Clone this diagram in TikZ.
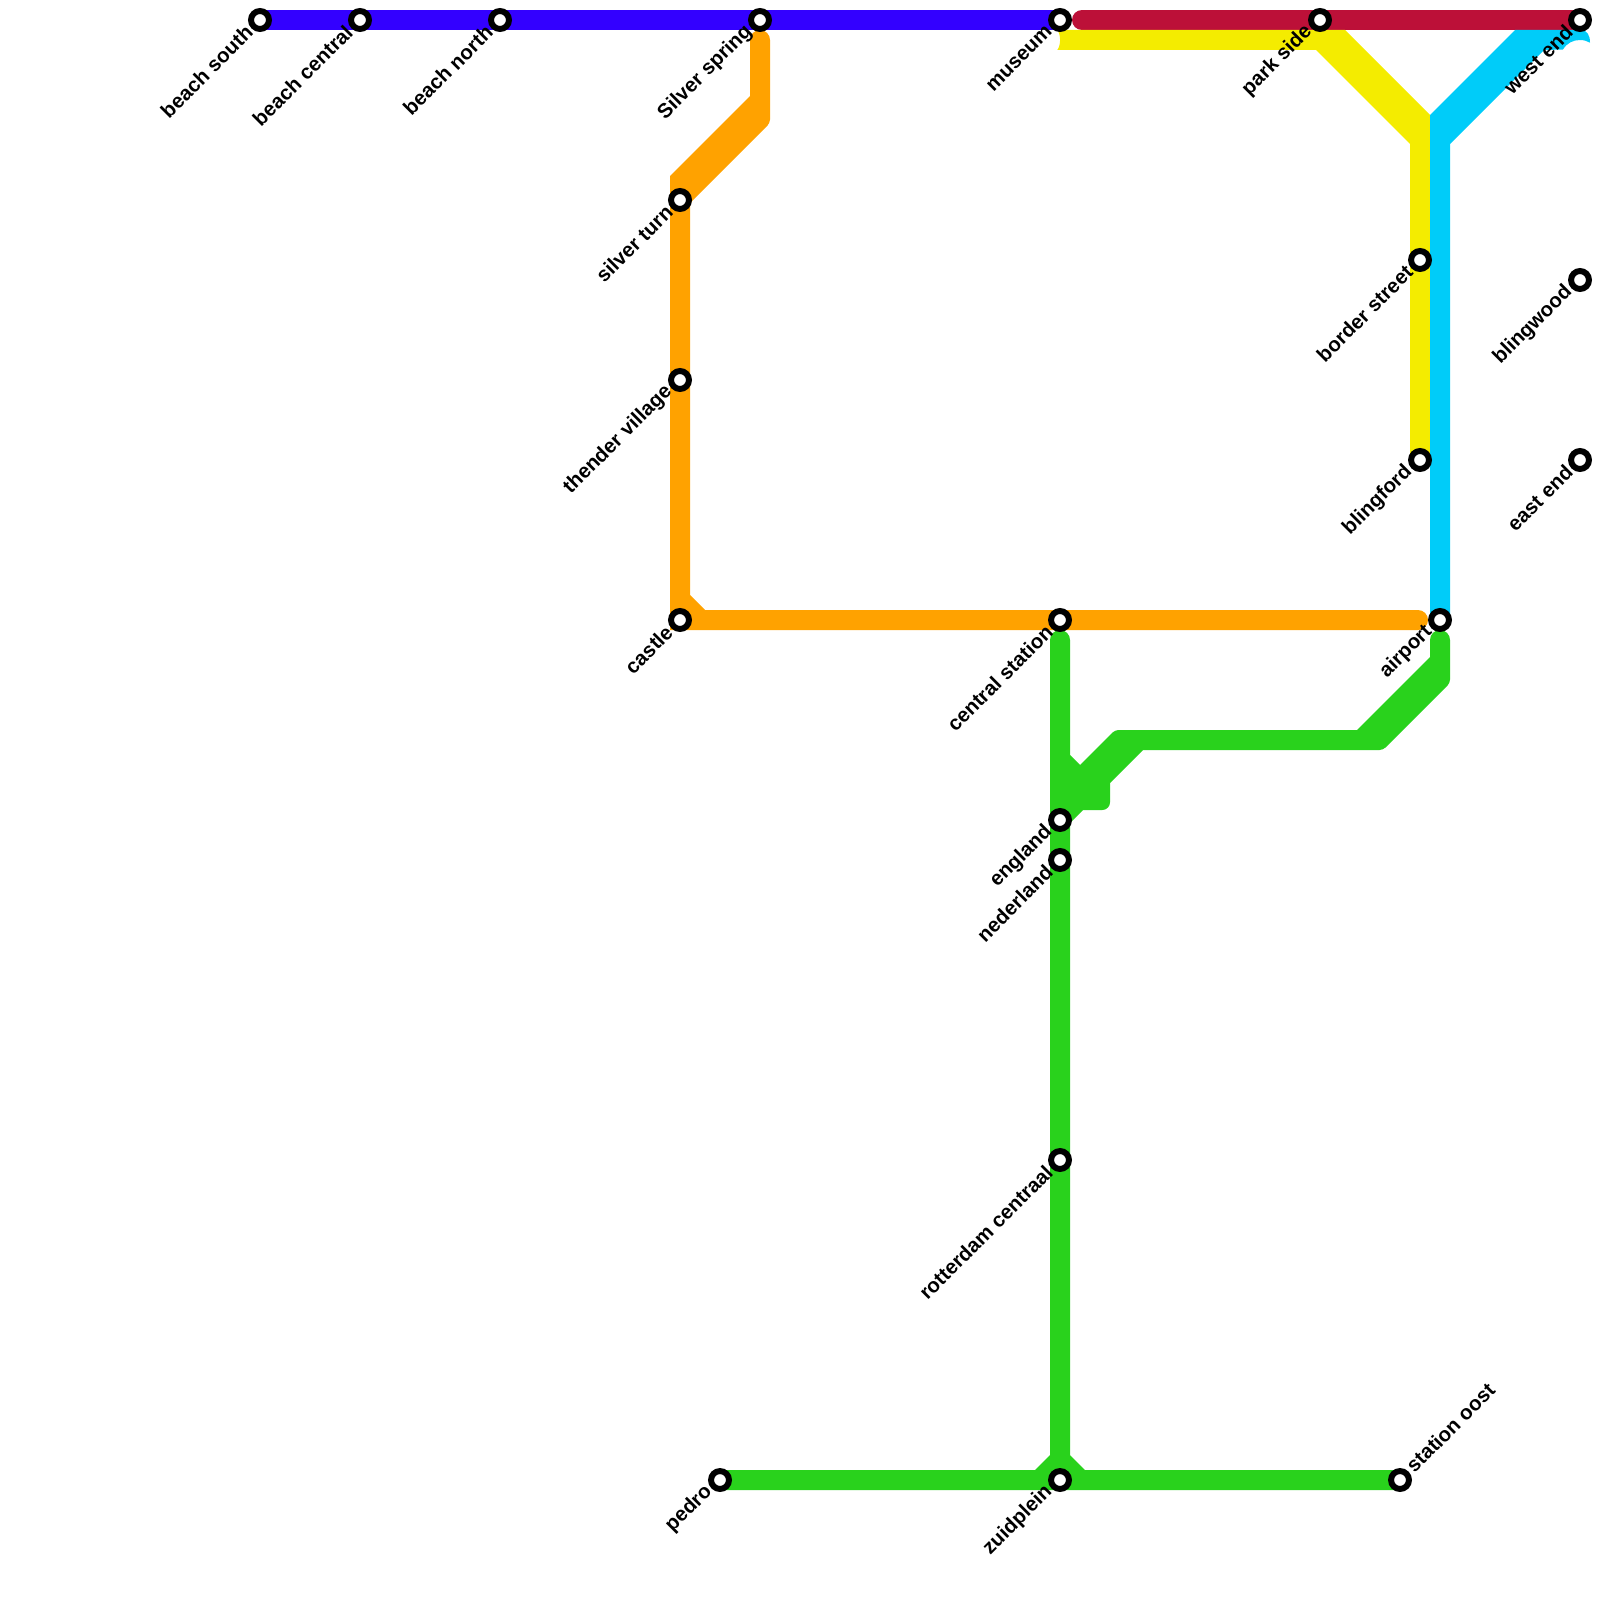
\documentclass[tikz,border=0pt]{standalone}
\usepackage{fontspec}
\setmainfont{Liberation Sans}
\definecolor{lblue}{HTML}{3300FF}
\definecolor{lred}{HTML}{BC1038}
\definecolor{lyellow}{HTML}{F4EC00}
\definecolor{lcyan}{HTML}{00CCF9}
\definecolor{lorange}{HTML}{FFA200}
\definecolor{lgreen}{HTML}{29D21C}
\tikzset{
  x=0.01cm,y=-0.01cm,
  stn/.style={circle,draw=black,fill=white,line width=1.7pt,minimum size=5.12mm*0.35,inner sep=0pt},
  lbl/.style={rotate=45,anchor=east,inner sep=0pt,font=\fontsize{5.8}{6.5}\selectfont\bfseries,text=black},
  lblr/.style={rotate=45,anchor=west,inner sep=0pt,font=\fontsize{5.8}{6.5}\selectfont\bfseries,text=black},
  band/.style={line width=5.69pt},
  rc/.style={rounded corners=2.845pt},
  rs/.style={rounded corners=1pt}
}
\begin{document}
\begin{tikzpicture}
\useasboundingbox (0,0) rectangle (1600,1600);
% station places
\foreach \n/\x/\y in {bs/260/20,bc/360/20,bn/500/20,ss/760/20,mu/1060/20,ps/1320/20,we/1580/20,
  bw/1580/280,ee/1580/460,bo/1420/260,bf/1420/460,ap/1440/620,cs/1060/620,ca/680/620,tv/680/380,st/680/200,
  en/1060/820,ne/1060/860,rc/1060/1160,zu/1060/1480,pe/720/1480,so/1400/1480}
  {\coordinate (p\n) at (\x,\y);}
\coordinate (redstart) at (1082,20);
% blue and red
\draw[band,lblue] (pbs) -- (pmu);
\draw[band,lred,line cap=round] (redstart) -- (pwe);
% yellow
\fill[lyellow] (1057.3,30) .. controls (1061,35) and (1061,45) .. (1057.3,50)
  -- (1316,50) -- (1410,144) -- (1410,450) -- (1410,460) -- (1430,460) -- (1430,115) -- (1345,30) -- cycle;
% cyan
\fill[lcyan] (1430,620) -- (1430,115) -- (1515,30) -- (1582,30) .. controls (1587,31) and (1590,35) .. (1590,42.7)
  .. controls (1587,41) and (1584,40) .. (1580,40) .. controls (1573,40) and (1567,43) .. (1563,49.5)
  -- (1544,50) -- (1450,144) -- (1450,620) -- cycle;
% orange
\fill[lorange] (670,630) -- (670,176) -- (750,96) -- (750,50)
  {[rc] -- (750,30) -- (770,30) -- (770,50)}
  {[rs] -- (770,50) -- (770,123) -- (690,203)} -- (690,595) -- (705,610)
  {[rc] -- (1428,610) -- (1428,630) -- (1400,630)} -- cycle;
% green
\fill[lgreen] (1050,650)
  {[rc] -- (1050,630) -- (1070,630) -- (1070,650)}
  -- (1070,755) -- (1080,765)
  {[rs] -- (1115,730) -- (1130,730)}
  -- (1357,730) -- (1430,657) -- (1430,650)
  {[rc] -- (1430,630) -- (1450,630) -- (1450,650)}
  {[rs] -- (1450,683) -- (1383,750) -- (1370,750)}
  -- (1143,750) -- (1110,783)
  {[rounded corners=2.2pt] -- (1110,810) -- (1090,810)}
  -- (1083,810) -- (1070,823) -- (1070,1455) -- (1085,1470) -- (1400,1470) -- (1400,1490)
  -- (720,1490) -- (720,1470) -- (1035,1470) -- (1050,1455) -- cycle;
% labels
\foreach \n/\t in {bs/beach south,bc/beach central,bn/beach north,ss/Silver spring,mu/museum,ps/park side,we/west end,
  bw/blingwood,ee/east end,bo/border street,bf/blingford,ap/airport,cs/central station,ca/castle,tv/thender village,st/silver turn,
  en/england,ne/nederland,rc/rotterdam centraal,zu/zuidplein,pe/pedro}
  {\node[lbl] (l\n) at ([shift={(-10.5,8.5)}]p\n) {\t};}
\node[lblr] (lso) at ([shift={(9,-11)}]pso) {station oost};
% stations
\foreach \n in {bs,bc,bn,ss,mu,ps,we,bw,ee,bo,bf,ap,cs,ca,tv,st,en,ne,rc,zu,pe,so}
  {\node[stn] (s\n) at (p\n) {};}
\end{tikzpicture}
\end{document}
